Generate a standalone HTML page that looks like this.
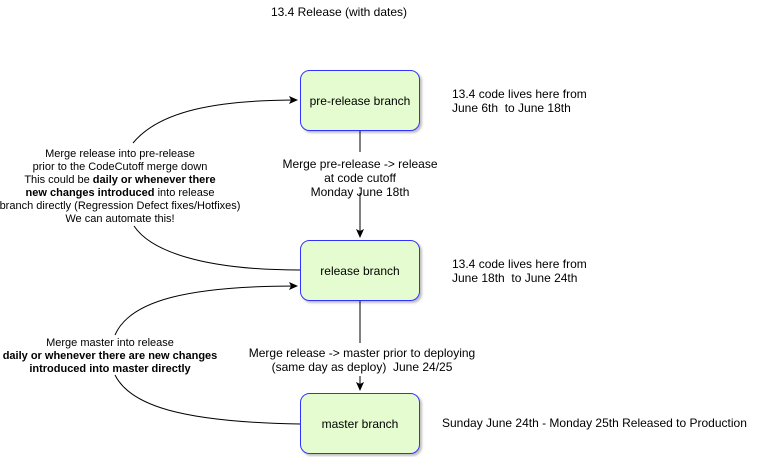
<!DOCTYPE html>
<html><head><style>
body{margin:0;background:#fff;}
svg{display:block;font-family:"Liberation Sans",Arial,sans-serif;}
</style></head><body>
<svg width="761" height="457" viewBox="0 0 761 457" xmlns="http://www.w3.org/2000/svg">
<defs>
<marker id="a" markerWidth="10" markerHeight="10" refX="8" refY="4" orient="auto" markerUnits="userSpaceOnUse"><path d="M0,0 L9,4 L0,8 L2,4 z" fill="#000"/></marker>
<filter id="s"><feDropShadow dx="2" dy="2" stdDeviation="1" flood-color="#000" flood-opacity="0.25"/></filter>
</defs>
<text x="339" y="16" font-size="12" text-anchor="middle">13.4 Release (with dates)</text>
<g fill="#e4fccf" stroke="#3333ff" stroke-width="1" filter="url(#s)">
<rect x="300.5" y="70.5" width="119" height="60" rx="9"/>
<rect x="300.5" y="240.5" width="119" height="60" rx="9"/>
<rect x="300.5" y="393.5" width="119" height="60" rx="9"/>
</g>
<g font-size="12" text-anchor="middle">
<text x="360" y="105">pre-release branch</text>
<text x="360" y="275">release branch</text>
<text x="360" y="428">master branch</text>
</g>
<g stroke="#000" fill="none" stroke-width="1">
<path d="M360,131 L360,152"/>
<path d="M360,193 L360,237" marker-end="url(#a)"/>
<path d="M360,301 L360,343"/>
<path d="M360,376 L360,390" marker-end="url(#a)"/>
<path d="M300,270 C200,270 150,250 134,226"/>
<path d="M133,143 C160,110 220,100 297,100" marker-end="url(#a)"/>
<path d="M300,424 C180,422 130,405 115,375"/>
<path d="M115,335 C130,300 190,286 297,286" marker-end="url(#a)"/>
</g>
<g font-size="12" text-anchor="middle">
<text x="360" y="168">Merge pre-release -&gt; release</text>
<text x="360" y="182">at code cutoff</text>
<text x="360" y="196">Monday June 18th</text>
<text x="362" y="357">Merge release -&gt; master prior to deploying</text>
<text x="362" y="371">(same day as deploy)&#160; June 24/25</text>
</g>
<g font-size="11" text-anchor="middle">
<text x="120" y="157">Merge release into pre-release</text>
<text x="120" y="170">prior to the CodeCutoff merge down</text>
<text x="120" y="183">This could be <tspan font-weight="bold">daily or whenever there</tspan></text>
<text x="120" y="196"><tspan font-weight="bold">new changes introduced</tspan> into release</text>
<text x="120" y="209">branch directly (Regression Defect fixes/Hotfixes)</text>
<text x="120" y="222">We can automate this!</text>
<text x="110" y="346">Merge master into release</text>
<text x="110" y="359" font-weight="bold">daily or whenever there are new changes</text>
<text x="110" y="372" font-weight="bold">introduced into master directly</text>
</g>
<g font-size="12">
<text x="452" y="98">13.4 code lives here from</text>
<text x="452" y="112">June 6th&#160; to June 18th</text>
<text x="452" y="268">13.4 code lives here from</text>
<text x="452" y="282">June 18th&#160; to June 24th</text>
<text x="442" y="427">Sunday June 24th - Monday 25th Released to Production</text>
</g>
</svg>
</body></html>
